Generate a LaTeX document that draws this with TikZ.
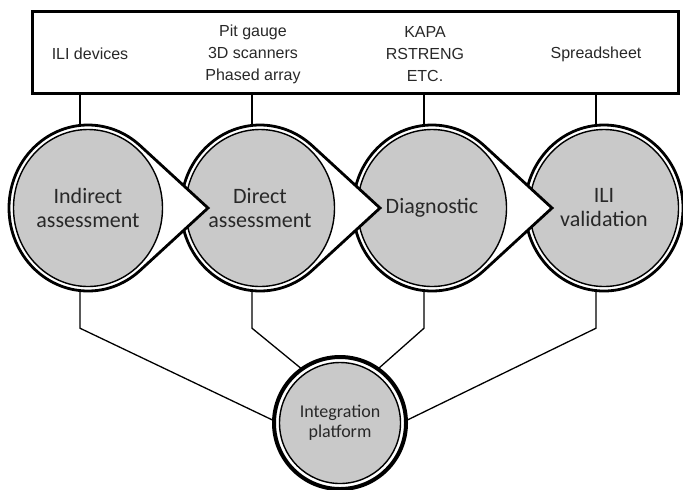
\documentclass[tikz,border=0pt]{standalone}
\usepackage{fontspec}
\setmainfont{Carlito}
\newfontfamily\toolfont{Liberation Sans}
\usetikzlibrary{shapes.geometric,backgrounds}
\definecolor{stagegray}{RGB}{201,201,201}
\definecolor{inkgray}{RGB}{40,40,40}
\tikzset{
  stage/.style={ellipse, draw, line width=0.7pt, fill=stagegray, minimum width=74.5pt, minimum height=78.5pt, inner sep=0pt, align=center, text=inkgray, font=\fontsize{11}{12}\selectfont},
  hub/.style={circle, draw, line width=0.7pt, fill=stagegray, minimum size=60.5pt, inner sep=0pt, align=center, text=inkgray, font=\fontsize{9}{10}\selectfont},
  ring/.style={draw, line width=1.4pt, fill=white},
  tool/.style={align=center, text=inkgray, font=\toolfont\fontsize{8}{11}\selectfont},
  link/.style={line width=0.65pt}
}
\begin{document}
\begin{tikzpicture}[x=0.5pt, y=-0.5pt]
    \useasboundingbox (0,0) rectangle (683,489);
    \node[draw, line width=1.5pt, minimum width=323pt, minimum height=41pt] (box) at (355.5,52.5) {};
    \node[tool] (t1) at (90,54) {ILI devices};
    \node[tool] (t2) at (253,54) {Pit gauge\\3D scanners\\Phased array};
    \node[tool] (t3) at (425,54) {KAPA\\RSTRENG\\ETC.};
    \node[tool] (t4) at (596,54) {Spreadsheet};

    \foreach \i/\x/\lbl in {4/604/{ILI\\validation}, 3/432/Diagnostic, 2/260/{Direct\\assessment}, 1/88/{Indirect\\assessment}} {
        \ifnum\i=4
            \draw[ring] (\x,208) ellipse[x radius=79, y radius=83];
        \else
            \draw[ring] (\x,208) ++(49:79 and 83) arc[start angle=49, end angle=311, x radius=79, y radius=83] -- (\x+120,208) -- cycle;
        \fi
        \node[stage] (s\i) at (\x,208) {\lbl};
        \coordinate (u\i) at ([xshift=-4pt]s\i.north);
        \coordinate (d\i) at ([xshift=-4pt]s\i.south);
    }

    \draw[ring, line width=2pt] (340,423) circle[radius=66];
    \node[hub] (ip) at (340,423) {Integration\\platform};

    \begin{scope}[on background layer]
        \foreach \i in {1,...,4}
            \draw[link] (u\i) -- (u\i |- box.south);
        \draw[link] (d1) -- ++(0,41) -- (ip.west);
        \draw[link] (d2) -- ++(0,41) -- (ip.124);
        \draw[link] (d3) -- ++(0,41) -- (ip.56);
        \draw[link] (d4) -- ++(0,41) -- (ip.east);
    \end{scope}
\end{tikzpicture}
\end{document}
